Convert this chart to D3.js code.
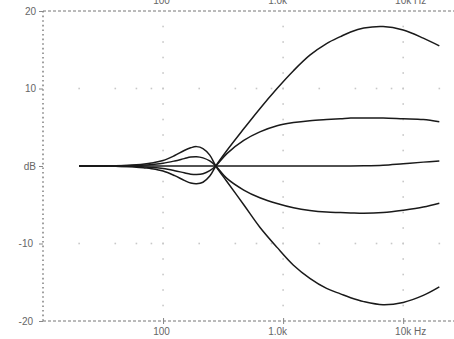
<!DOCTYPE html>
<html>
<head>
<meta charset="utf-8">
<script src="https://cdn.jsdelivr.net/npm/d3@7/dist/d3.min.js"></script>
<style>
  body { margin: 0; background: #fff; }
  svg text { font-family: "Liberation Sans", Arial, sans-serif; font-size: 10px; fill: #666; }
</style>
</head>
<body>
<div id="chart"></div>
<script>
// frequency points (Hz) the curves were read at
const freqs = [20, 30, 40, 50, 60, 70, 80, 100, 125, 150, 170, 190, 215, 245, 275,
  340, 470, 640, 890, 1220, 1670, 2300, 3000, 3650, 4700, 6800, 10000, 14700, 20000];

// response curves, dB
const boostMax = [0, 0, -0.03, -0.08, -0.15, -0.25, -0.35, -0.65, -1.25, -1.85, -2.2, -2.3, -2.1, -1.3, 0,
  2.0, 4.8, 7.4, 10.0, 12.3, 14.3, 15.8, 16.7, 17.3, 17.8, 18.0, 17.55, 16.5, 15.5];
const boostHalf = [0, 0, -0.02, -0.05, -0.08, -0.12, -0.18, -0.32, -0.6, -0.88, -1.05, -1.1, -1.0, -0.6, 0,
  1.6, 3.3, 4.4, 5.2, 5.6, 5.85, 6.0, 6.1, 6.2, 6.2, 6.2, 6.1, 6.0, 5.7];
const flat = [0, 0, 0, 0, 0, 0, 0, 0, 0, 0, 0, 0, 0, 0, 0,
  0, 0, 0, 0, 0, 0, 0, 0, 0, 0.02, 0.1, 0.3, 0.5, 0.65];
const cutHalf = [0, 0, 0.02, 0.05, 0.08, 0.12, 0.2, 0.35, 0.65, 0.95, 1.15, 1.2, 1.05, 0.65, 0,
  -1.6, -3.1, -4.1, -4.85, -5.4, -5.75, -5.95, -6.0, -6.05, -6.1, -6.0, -5.7, -5.3, -4.8];
const cutMax = [0, 0, 0.03, 0.08, 0.15, 0.25, 0.38, 0.7, 1.35, 2.0, 2.35, 2.5, 2.25, 1.4, 0,
  -2.0, -5.0, -7.9, -10.5, -12.8, -14.5, -15.8, -16.5, -17.0, -17.5, -17.9, -17.6, -16.7, -15.6];

const curves = [boostMax, boostHalf, flat, cutHalf, cutMax];

// axis ticks
const xTicks = [100, 1000, 10000];
const xTickLabels = ["100", "1.0k", "10k Hz"];
const yTicks = [20, 10, 0, -10, -20];
const yTickLabels = ["20", "10", "dB", "-10", "-20"];
// faint grid dots
const xDotFreqs = [20, 40, 60, 80, 100, 200, 400, 600, 800, 1000, 2000, 4000, 6000, 8000, 10000, 20000];
const yDotLevels = d3.range(-18, 19, 2);

const width = 454;
const height = 339;

const x = d3.scaleLog().domain([10, 26500]).range([43, 454]);
const y = d3.scaleLinear().domain([-20, 20]).range([321, 11]);

const svg = d3.select("#chart").append("svg")
    .attr("width", width)
    .attr("height", height);

// grid dots on verticals at the decades
const grid = svg.append("g").attr("fill", "#c8c8c8");
xTicks.forEach(f => {
  grid.selectAll(null)
    .data(yDotLevels.filter(v => v !== 0))
    .enter().append("rect")
      .attr("x", x(f) - 0.8)
      .attr("y", d => y(d) - 0.8)
      .attr("width", 1.6)
      .attr("height", 1.6);
});
// grid dots along +/-10 dB
[10, -10].forEach(v => {
  grid.selectAll(null)
    .data(xDotFreqs)
    .enter().append("rect")
      .attr("x", d => x(d) - 0.8)
      .attr("y", y(v) - 0.8)
      .attr("width", 1.6)
      .attr("height", 1.6);
});

// frame: dashed top/bottom, dotted left
const frame = svg.append("g").attr("stroke", "#777").attr("fill", "none");
[20, -20].forEach(v => {
  frame.append("line")
    .attr("x1", x.range()[0]).attr("x2", x.range()[1])
    .attr("y1", y(v)).attr("y2", y(v))
    .attr("stroke-width", 1)
    .attr("stroke-dasharray", "3,2");
});
frame.append("line")
  .attr("x1", x.range()[0]).attr("x2", x.range()[0])
  .attr("y1", y(20)).attr("y2", y(-20))
  .attr("stroke-width", 1.4)
  .attr("stroke-dasharray", "1.6,3");

// left axis
const yAxis = svg.append("g")
    .attr("transform", `translate(${x.range()[0]},0)`)
    .call(d3.axisLeft(y)
      .tickValues(yTicks)
      .tickFormat((d, i) => yTickLabels[i])
      .tickSize(4)
      .tickPadding(3));
yAxis.select(".domain").remove();
yAxis.selectAll("line").attr("stroke", "#888");
yAxis.selectAll("text")
    .attr("x", d => d < 0 ? -10 : -7)
    .style("font-size", "10px")
    .attr("fill", "#666");

// bottom axis
const xAxisBottom = svg.append("g")
    .attr("transform", `translate(0,${y(-20)})`)
    .call(d3.axisBottom(x)
      .tickValues(xTicks)
      .tickFormat((d, i) => xTickLabels[i])
      .tickSize(3)
      .tickPadding(4));
xAxisBottom.select(".domain").remove();
xAxisBottom.selectAll("line").attr("stroke", "#888").attr("y1", -3);

// top axis (labels sit half off the top edge, as in the source)
const xAxisTop = svg.append("g")
    .attr("transform", `translate(0,${y(20)})`)
    .call(d3.axisTop(x)
      .tickValues(xTicks)
      .tickFormat((d, i) => xTickLabels[i])
      .tickSize(0)
      .tickPadding(7));
xAxisTop.select(".domain").remove();

[xAxisBottom, xAxisTop].forEach(ax => {
  ax.selectAll("text")
    .style("font-size", "10px")
    .attr("fill", "#666")
    .attr("dx", (d, i) => [-2, -6, 7][i]);
});

// curves
const line = d3.line()
    .x((d, i) => x(freqs[i]))
    .y(d => y(d))
    .curve(d3.curveCatmullRom.alpha(0.5));

svg.append("g")
  .selectAll("path")
  .data(curves)
  .enter().append("path")
    .attr("d", line)
    .attr("fill", "none")
    .attr("stroke", "#1a1a1a")
    .attr("stroke-width", 1.5);
</script>
</body>
</html>
